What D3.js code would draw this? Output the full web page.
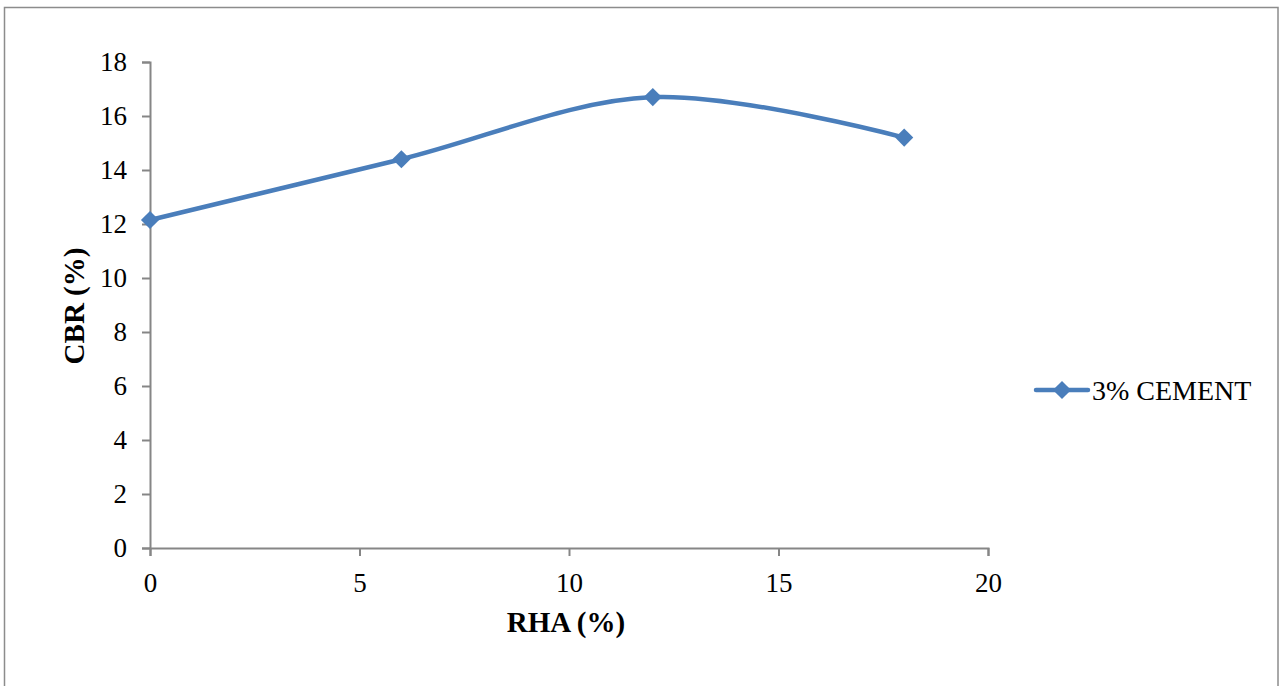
<!DOCTYPE html>
<html><head><meta charset="utf-8">
<script src="https://cdn.jsdelivr.net/npm/d3@7"></script>
<style>body{margin:0;background:#fff;} svg{display:block;}</style>
</head><body>
<svg id="chart" width="1282" height="686"></svg>
<script>
const rhaValues = [0, 6, 12, 18];
const cbrValues = [12.15, 14.4, 16.7, 15.2];
const seriesName = "3% CEMENT";
const xTicks = [0, 5, 10, 15, 20];
const yTicks = [0, 2, 4, 6, 8, 10, 12, 14, 16, 18];
const xTitle = "RHA (%)";
const yTitle = "CBR (%)";

const svg = d3.select("#chart");
const font = "'Liberation Serif', 'Times New Roman', serif";
const axisColor = "#868686";
const lineColor = "#4a7ebb";

svg.append("rect").attr("x", 4.5).attr("y", 7.5).attr("width", 1273.5).attr("height", 690)
  .attr("fill", "#fff").attr("stroke", "#8c8c8c").attr("stroke-width", 1.5);

const x = d3.scaleLinear().domain([0, 20]).range([150, 988]);
const y = d3.scaleLinear().domain([0, 18]).range([548, 62]);

const yAxis = svg.append("g").attr("transform", "translate(150,0)")
  .call(d3.axisLeft(y).tickValues(yTicks).tickSize(8).tickPadding(15).tickFormat(d3.format("d")));
const xAxis = svg.append("g").attr("transform", "translate(0,548)")
  .call(d3.axisBottom(x).tickValues(xTicks).tickSize(8).tickPadding(17).tickFormat(d3.format("d")));
[xAxis, yAxis].forEach(a => {
  a.selectAll("path,line").attr("stroke", axisColor).attr("stroke-width", 2);
  a.selectAll("text").attr("font-family", font).attr("font-size", 27).attr("fill", "#000");
});

svg.append("text").attr("x", 566).attr("y", 632).attr("text-anchor", "middle")
  .attr("font-family", font).attr("font-size", 29).attr("font-weight", "bold").text(xTitle);
svg.append("text").attr("transform", "translate(84,306) rotate(-90)").attr("text-anchor", "middle")
  .attr("font-family", font).attr("font-size", 29).attr("font-weight", "bold").text(yTitle);

const data = rhaValues.map((v, i) => [v, cbrValues[i]]);
const line = d3.line().x(d => x(d[0])).y(d => y(d[1])).curve(d3.curveCardinal.tension(0));
svg.append("path").datum(data).attr("d", line).attr("fill", "none")
  .attr("stroke", lineColor).attr("stroke-width", 4.5).attr("stroke-linejoin", "round");

const diamond = d3.symbol().type(d3.symbolDiamond2).size(210);
svg.selectAll(".pt").data(data).join("path").attr("class", "pt")
  .attr("transform", d => `translate(${x(d[0])},${y(d[1])})`)
  .attr("d", diamond).attr("fill", lineColor);

// legend
const lg = svg.append("g").attr("transform", "translate(1036,390)");
lg.append("line").attr("x1", 0).attr("x2", 52).attr("y1", 0).attr("y2", 0)
  .attr("stroke", lineColor).attr("stroke-width", 4.5).attr("stroke-linecap", "round");
lg.append("path").attr("transform", "translate(26,0)").attr("d", diamond).attr("fill", lineColor);
lg.append("text").attr("x", 56).attr("y", 9.5).attr("font-family", font).attr("font-size", 28)
  .attr("fill", "#000").text(seriesName);
</script>
</body></html>
